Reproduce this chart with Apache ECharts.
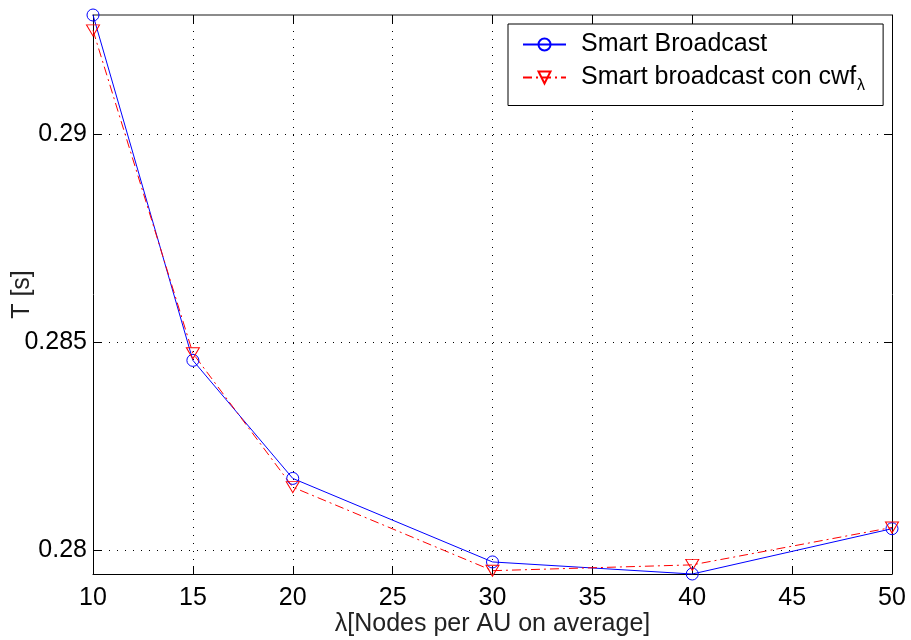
<!DOCTYPE html>
<html>
<head>
<meta charset="utf-8">
<script src="https://cdn.jsdelivr.net/npm/echarts@6/dist/echarts.min.js"></script>
<style>html,body{margin:0;padding:0;background:#fff}#c{width:911px;height:640px}</style>
</head>
<body>
<div id="c"></div>
<script>
const lambdaVals = [10, 15, 20, 30, 40, 50];
const smartBroadcast = [0.29287, 0.28456, 0.28172, 0.27971, 0.27942, 0.28051];
const smartCwf = [0.29250, 0.28473, 0.28151, 0.27950, 0.27964, 0.28054];
const xTicks = [10, 15, 20, 25, 30, 35, 40, 45, 50];
const yTicks = [0.28, 0.285, 0.29];
const seriesNames = ['Smart Broadcast', 'Smart broadcast con cwf'];

const FONT = 'Liberation Sans, Arial, Helvetica, sans-serif';
const FS = 25;
const chart = echarts.init(document.getElementById('c'), null, {renderer: 'canvas'});

const yMin = Math.min(...smartBroadcast, ...smartCwf);
const yMax = Math.max(...smartBroadcast, ...smartCwf);

const dotted = {show: true, lineStyle: {color: '#000', width: 1, type: [1, 7]}};

chart.setOption({
  animation: false,
  backgroundColor: '#fff',
  grid: {left: 93, right: 19, top: 15, bottom: 66, show: false, outerBoundsMode: 'none', containLabel: false},
  xAxis: [{
    type: 'value', min: 10, max: 50, interval: 5,
    name: 'λ[Nodes per AU on average]', nameLocation: 'middle', nameGap: 38, nameMoveOverlap: false,
    nameTextStyle: {fontFamily: FONT, fontSize: FS, color: '#222'},
    axisLine: {show: true, onZero: false, lineStyle: {color: '#000', width: 1}},
    axisTick: {show: true, inside: true, length: 8, lineStyle: {color: '#000'}},
    axisLabel: {fontFamily: FONT, fontSize: FS, color: '#000', margin: 12},
    splitLine: dotted
  }, {
    type: 'value', position: 'top', min: 10, max: 50, interval: 5,
    axisLine: {show: true, onZero: false, lineStyle: {color: '#666', width: 1.5}},
    axisTick: {show: true, inside: true, length: 8, lineStyle: {color: '#000'}},
    axisLabel: {show: false}, splitLine: {show: false}
  }],
  yAxis: [{
    type: 'value', min: yMin, max: yMax,
    name: 'T [s]', nameLocation: 'middle', nameGap: 58, nameRotate: 90, nameMoveOverlap: false,
    nameTextStyle: {fontFamily: FONT, fontSize: FS, color: '#222'},
    axisLine: {show: true, onZero: false, lineStyle: {color: '#000', width: 1}},
    axisTick: {show: true, inside: true, length: 8, customValues: yTicks, lineStyle: {color: '#000'}},
    axisLabel: {fontFamily: FONT, fontSize: FS, color: '#000', margin: 6, customValues: yTicks,
      showMinLabel: true, showMaxLabel: true},
    splitLine: dotted
  }, {
    type: 'value', position: 'right', min: yMin, max: yMax,
    axisLine: {show: true, onZero: false, lineStyle: {color: '#000', width: 1}},
    axisTick: {show: true, inside: true, length: 8, customValues: yTicks, lineStyle: {color: '#000'}},
    axisLabel: {show: false, customValues: yTicks}, splitLine: {show: false}
  }],
  legend: {
    orient: 'vertical', left: 508, top: 24,
    backgroundColor: '#fff', borderColor: '#000', borderWidth: 1,
    padding: [8, 18, 12, 14], itemGap: 8, itemWidth: 43, itemHeight: 15,
    textStyle: {fontFamily: FONT, fontSize: FS, color: '#000', padding: [0, 0, 0, 10],
      rich: {sub: {fontFamily: FONT, fontSize: 16, color: '#000', padding: [16, 0, 0, 1]}}},
    formatter: function (name) { return name === seriesNames[1] ? name + '{sub|λ}' : name; },
    data: seriesNames
  },
  series: [{
    name: seriesNames[0], type: 'line', clip: false,
    data: lambdaVals.map((x, i) => [x, smartBroadcast[i]]),
    symbol: 'circle', symbolSize: 12,
    itemStyle: {color: 'rgba(255,255,255,0)', borderColor: '#0000ff', borderWidth: 1},
    lineStyle: {color: '#0000ff', width: 1, type: 'solid'}
  }, {
    name: seriesNames[1], type: 'line', clip: false,
    data: lambdaVals.map((x, i) => [x, smartCwf[i]]),
    symbol: 'triangle', symbolRotate: 180, symbolSize: [13, 11],
    itemStyle: {color: 'rgba(255,255,255,0)', borderColor: '#ff0000', borderWidth: 1},
    lineStyle: {color: '#ff0000', width: 1, type: [9, 4, 2, 4]}
  }]
});
</script>
</body>
</html>
